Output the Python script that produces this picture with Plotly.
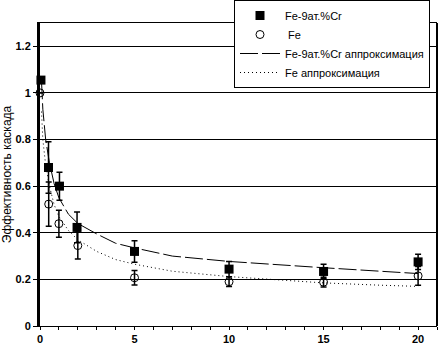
import plotly.graph_objects as go

cr_x = [0.05, 0.45, 1.03, 1.96, 5, 10, 15, 20]
cr_y = [1.055, 0.68, 0.60, 0.423, 0.32, 0.244, 0.234, 0.275]
cr_err = [0.0, 0.11, 0.06, 0.066, 0.046, 0.033, 0.031, 0.033]

fe_x = [0.0, 0.46, 1.0, 2.0, 5, 10, 15, 20]
fe_y = [1.0, 0.523, 0.439, 0.345, 0.207, 0.19, 0.188, 0.215]
fe_err = [0.0, 0.095, 0.058, 0.058, 0.031, 0.021, 0.021, 0.04]

# Approximation curves
cr_fit_x = [0.08, 0.15, 0.3, 0.5, 0.75, 1, 1.5, 2, 3, 4, 5, 7, 10, 13, 15, 18, 20]
cr_fit_y = [1.05, 0.93, 0.80, 0.70, 0.61, 0.55, 0.48, 0.44, 0.395, 0.355, 0.335, 0.30, 0.277, 0.26, 0.25, 0.235, 0.225]

fe_fit_x = [0.08, 0.15, 0.3, 0.5, 0.75, 1, 1.5, 2, 3, 4, 5, 7, 10, 13, 15, 18, 20]
fe_fit_y = [0.92, 0.80, 0.69, 0.60, 0.52, 0.47, 0.41, 0.37, 0.32, 0.285, 0.265, 0.235, 0.212, 0.195, 0.185, 0.175, 0.17]

names = ["Fe-9ат.%Cr", " Fe", "Fe-9ат.%Cr аппроксимация", "Fe аппроксимация"]

fig = go.Figure()

fig.add_trace(go.Scatter(
    x=cr_fit_x, y=cr_fit_y, mode="lines", name=names[2], legendrank=3,
    line=dict(color="black", width=1, dash="18px,4px"), cliponaxis=False,
))
fig.add_trace(go.Scatter(
    x=fe_fit_x, y=fe_fit_y, mode="lines", name=names[3], legendrank=4,
    line=dict(color="black", width=1, dash="1px,3px"), cliponaxis=False,
))
fig.add_trace(go.Scatter(
    x=fe_x, y=fe_y, mode="markers", name=names[1], legendrank=2,
    marker=dict(symbol="circle-open", size=8, color="black", line=dict(width=1, color="black")),
    error_y=dict(type="data", array=fe_err, visible=True, color="black", thickness=1.5, width=3),
    cliponaxis=False,
))
fig.add_trace(go.Scatter(
    x=cr_x, y=cr_y, mode="markers", name=names[0], legendrank=1,
    marker=dict(symbol="square", size=9, color="black"),
    error_y=dict(type="data", array=cr_err, visible=True, color="black", thickness=1.5, width=3),
    cliponaxis=False,
))

fig.update_layout(
    width=441, height=348,
    margin=dict(l=40, r=4, t=23, b=22, autoexpand=False),
    paper_bgcolor="white", plot_bgcolor="white",
    font=dict(family="Liberation Sans, Arial, sans-serif", color="black", size=11),
    showlegend=True,
    legend=dict(
        x=(234 - 40) / 397, y=(326 - 0) / 303, xanchor="left", yanchor="top",
        bgcolor="white", bordercolor="black", borderwidth=1,
        font=dict(size=11, family="Liberation Sans, Arial, sans-serif"),
        tracegroupgap=0, itemwidth=40,
    ),
    shapes=[dict(type="line", xref="paper", yref="paper", x0=1, x1=1, y0=0, y1=1,
                 line=dict(color="black", width=2))],
)

fig.update_xaxes(
    range=[0, 21], dtick=5, tick0=0,
    showgrid=False, zeroline=False,
    showline=True, linecolor="black", linewidth=1, mirror=True,
    ticks="outside", ticklen=3, tickcolor="black",
    minor=dict(dtick=1, ticks="outside", ticklen=3, tickcolor="black", showgrid=False),
    tickfont=dict(size=11, weight="bold"),
)
fig.update_yaxes(
    range=[0, 1.3], dtick=0.2, tick0=0,
    showgrid=True, gridcolor="black", gridwidth=1, zeroline=False,
    showline=True, linecolor="black", linewidth=3,
    ticks="outside", ticklen=4, tickcolor="black",
    tickfont=dict(size=11, weight="bold"),
    title=dict(text="Эффективность каскада", font=dict(size=12), standoff=3),
)

fig.write_html(
    "out.html",
    config={"displayModeBar": False},
    post_script="document.body.style.margin='0';document.body.style.overflow='hidden';",
)
